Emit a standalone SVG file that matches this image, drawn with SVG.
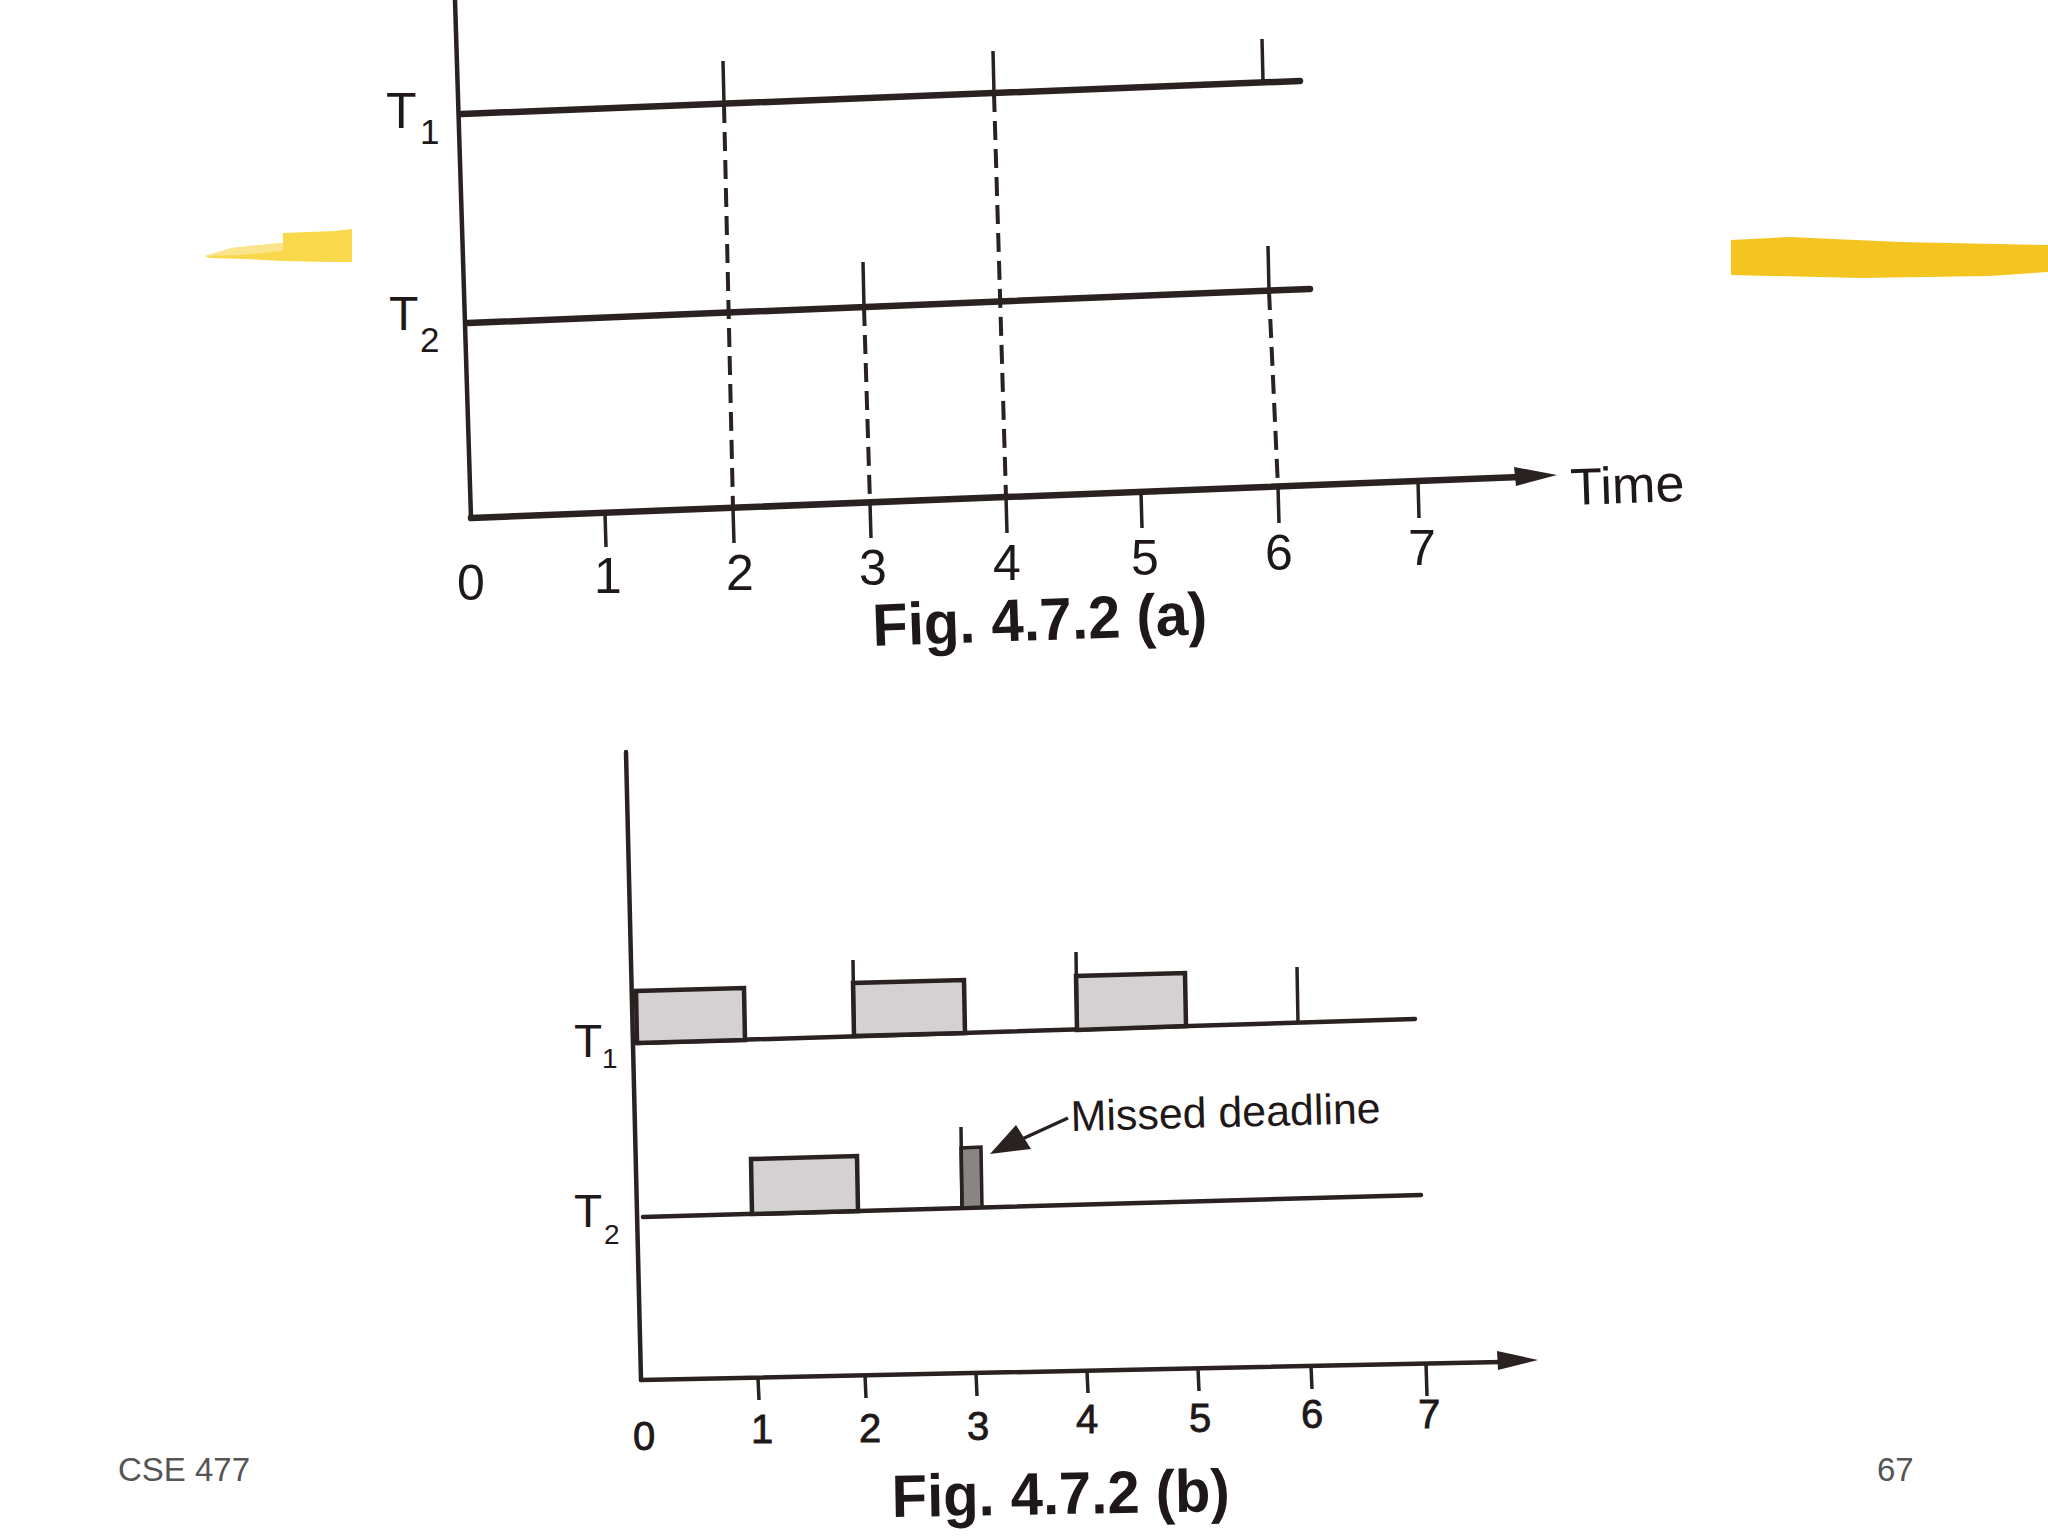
<svg xmlns="http://www.w3.org/2000/svg" width="2048" height="1536" viewBox="0 0 2048 1536">
<style>
.ln{stroke:#2a2121;fill:none;stroke-linecap:round}
.thick{stroke-width:6.5}
.ax{stroke-width:4.5}
.thin{stroke-width:4.5}
.dash{stroke:#2a2121;stroke-width:4;stroke-dasharray:19 9;fill:none}
.tk{stroke:#2a2121;stroke-width:3.5}
.box{fill:#d3d1d1;stroke:#2a2121;stroke-width:4.5;stroke-linejoin:miter}
.dk{fill:#8a8585;stroke:#2a2121;stroke-width:3.5}
.lab{font-family:"Liberation Sans",Arial,sans-serif;fill:#1e1818}
.dig{font-size:50px;text-anchor:middle}
.digb{font-size:40px;text-anchor:middle;stroke:#1e1818;stroke-width:0.8}
.cap{font-size:60px;font-weight:bold}
.foot{font-family:"Liberation Sans",Arial,sans-serif;font-size:33px;fill:#555}
</style>
<rect width="2048" height="1536" fill="#ffffff"/>
<g id="highlights">
<polygon points="205,256 232,248 270,244 283,243 283,233 335,231 352,229 352,262 330,262 283,261 245,259 210,258" fill="#f9d84c"/>
<polygon points="205,256 232,248 283,243 283,251 240,255" fill="#fbe48a"/>
<polygon points="1731,240 1790,237 1900,242 2048,245 2048,272 1990,276 1860,278 1731,275" fill="#f4c520"/>
</g>
<g id="fig-a">
<g id="fig-a-axes">
<line class="ln ax" x1="455" y1="0" x2="471" y2="518"/>
<line class="ln thick" x1="471" y1="518" x2="1520" y2="477"/>
<polygon points="1557,475 1514,467 1516,486" fill="#2a2121"/>
<text class="lab" x="1571" y="505" font-size="52" textLength="114" lengthAdjust="spacingAndGlyphs" transform="rotate(-2 1571 505)">Time</text>
</g>
<g id="fig-a-T1">
<line class="ln thick" x1="462" y1="114" x2="1300" y2="81"/>
<text class="lab" x="386" y="128" font-size="50">T</text>
<text class="lab" x="420" y="144" font-size="35">1</text>
<line class="tk" x1="1262" y1="39" x2="1263" y2="81"/>
</g>
<g id="fig-a-T2">
<line class="ln thick" x1="468" y1="323" x2="1310" y2="289"/>
<text class="lab" x="389" y="330" font-size="48">T</text>
<text class="lab" x="420" y="352" font-size="35">2</text>
</g>
<g id="fig-a-connectors">
<line class="tk" x1="723" y1="61" x2="724" y2="104"/>
<line class="dash" x1="724" y1="104" x2="733" y2="508"/>
<line class="tk" x1="993" y1="51" x2="994" y2="93"/>
<line class="dash" x1="994" y1="93" x2="1006" y2="497"/>
<line class="tk" x1="863" y1="262" x2="864" y2="307"/>
<line class="dash" x1="864" y1="307" x2="870" y2="503"/>
<line class="tk" x1="1268" y1="246" x2="1269" y2="291"/>
<line class="dash" x1="1269" y1="291" x2="1278" y2="487"/>
<line class="tk" x1="605" y1="513" x2="606" y2="547"/>
<line class="tk" x1="733" y1="508" x2="734" y2="543"/>
<line class="tk" x1="870" y1="503" x2="871" y2="538"/>
<line class="tk" x1="1006" y1="497" x2="1007" y2="533"/>
<line class="tk" x1="1141" y1="492" x2="1142" y2="528"/>
<line class="tk" x1="1278" y1="487" x2="1279" y2="523"/>
<line class="tk" x1="1418" y1="481" x2="1419" y2="518"/>
</g>
<g id="fig-a-labels">
<text class="lab dig" x="471" y="600">0</text>
<text class="lab dig" x="608" y="593">1</text>
<text class="lab dig" x="740" y="590">2</text>
<text class="lab dig" x="873" y="585">3</text>
<text class="lab dig" x="1007" y="580">4</text>
<text class="lab dig" x="1145" y="575">5</text>
<text class="lab dig" x="1279" y="570">6</text>
<text class="lab dig" x="1422" y="565">7</text>
<text class="lab cap" x="873" y="646" textLength="335" lengthAdjust="spacingAndGlyphs" transform="rotate(-2 873 646)">Fig. 4.7.2 (a)</text>
</g>
</g>
<g id="fig-b">
<g id="fig-b-axes">
<line class="ln thin" x1="626" y1="752" x2="641" y2="1380"/>
<line class="ln thin" x1="641" y1="1380" x2="1502" y2="1362"/>
<polygon points="1538,1360 1497,1351 1498,1370" fill="#2a2121"/>
</g>
<g id="fig-b-T1">
<line class="ln thin" x1="637" y1="1043" x2="1415" y2="1019"/>
<polygon class="box" points="637,1043 745,1040 744,988 636,991"/>
<polygon class="box" points="854,1036 965,1033 964,980 853,983"/>
<polygon class="box" points="1077,1030 1186,1026 1185,973 1076,976"/>
<line class="tk" x1="853" y1="960" x2="854" y2="1036"/>
<line class="tk" x1="1076" y1="952" x2="1077" y2="1030"/>
<line class="tk" x1="1297" y1="967" x2="1298" y2="1023"/>
<text class="lab" x="574" y="1057" font-size="46">T</text>
<text class="lab" x="602" y="1068" font-size="28">1</text>
</g>
<g id="fig-b-T2">
<line class="ln thin" x1="643" y1="1217" x2="1421" y2="1195"/>
<polygon class="box" points="752,1214 858,1211 857,1156 751,1159"/>
<polygon class="dk" points="962,1208 982,1207 981,1147 961,1148"/>
<line class="tk" x1="961" y1="1127" x2="962" y2="1208"/>
<text class="lab" x="574" y="1227" font-size="46">T</text>
<text class="lab" x="604" y="1244" font-size="28">2</text>
</g>
<g id="fig-b-connectors">
<line class="tk" x1="1068" y1="1118" x2="1020" y2="1140"/>
<polygon points="990,1154 1016,1125 1031,1149" fill="#2a2121"/>
<line class="tk" x1="758" y1="1378" x2="759" y2="1400"/>
<line class="tk" x1="865" y1="1375" x2="866" y2="1398"/>
<line class="tk" x1="976" y1="1373" x2="977" y2="1396"/>
<line class="tk" x1="1087" y1="1371" x2="1088" y2="1393"/>
<line class="tk" x1="1198" y1="1368" x2="1199" y2="1391"/>
<line class="tk" x1="1311" y1="1366" x2="1312" y2="1389"/>
<line class="tk" x1="1426" y1="1363" x2="1427" y2="1396"/>
</g>
<g id="fig-b-labels">
<text class="lab" x="1071" y="1131" font-size="43" textLength="310" lengthAdjust="spacingAndGlyphs" transform="rotate(-1.5 1071 1131)">Missed deadline</text>
<text class="lab digb" x="644" y="1450">0</text>
<text class="lab digb" x="762" y="1443">1</text>
<text class="lab digb" x="870" y="1442">2</text>
<text class="lab digb" x="978" y="1440">3</text>
<text class="lab digb" x="1087" y="1433">4</text>
<text class="lab digb" x="1200" y="1432">5</text>
<text class="lab digb" x="1312" y="1428">6</text>
<text class="lab digb" x="1429" y="1428">7</text>
<text class="lab cap" x="892" y="1517" textLength="338" lengthAdjust="spacingAndGlyphs" transform="rotate(-1 892 1517)">Fig. 4.7.2 (b)</text>
</g>
</g>
<g id="footer">
<text class="foot" x="118" y="1481">CSE 477</text>
<text class="foot" x="1877" y="1481">67</text>
</g>
</svg>
